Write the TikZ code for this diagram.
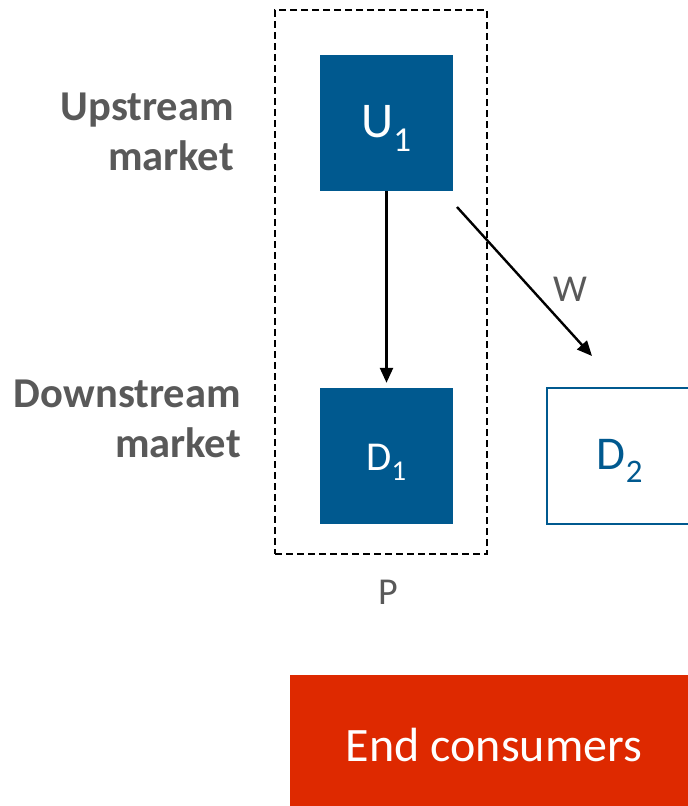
\documentclass[tikz,border=0pt]{standalone}
\usepackage{fontspec}
\setmainfont{Carlito}
\usetikzlibrary{arrows.meta}
\definecolor{firmblue}{RGB}{0,89,143}
\definecolor{consred}{RGB}{222,41,0}
\definecolor{labelgray}{RGB}{89,89,89}
\tikzset{
  firm/.style={draw=none, fill=firmblue, text=white, inner sep=0pt,
    minimum width=133pt, minimum height=136pt},
  rival/.style={draw=firmblue, line width=1.8pt, fill=white, text=firmblue,
    inner sep=0pt, minimum width=146pt, minimum height=136pt},
  market/.style={font=\bfseries\fontsize{42.5}{50}\selectfont, text=labelgray,
    align=right, anchor=east, inner sep=0pt},
  tag/.style={font=\fontsize{38}{46}\selectfont, text=labelgray, inner sep=0pt},
  flow/.style={draw=black, line width=2.4pt, -{Triangle[length=15pt,width=13pt]}},
  group/.style={draw=black, line width=1.8pt, dash pattern=on 7pt off 4pt,
    inner sep=0pt, minimum width=212pt, minimum height=544pt},
}
\begin{document}
\begin{tikzpicture}[x=1pt,y=-1pt]
\clip (0,0) rectangle (688,806);
\fill[white] (0,0) rectangle (688,806);

% integrated firm P
\node[group] (grp) at (381,282) {};
\node[firm] (U1) at (386.5,123) {};
\node[text=white, font=\fontsize{50}{60}\selectfont] (U1t) at (386.5,128) {U\textsubscript{1}};
\node[firm] (D1) at (386.5,456) {};
\node[text=white, font=\fontsize{41}{48}\selectfont] (D1t) at (386.5,462) {D\textsubscript{1}};
\node[tag] (P) at (388,592) {P};

% independent downstream rival
\node[rival] (D2) at (620,456) {};
\node[text=firmblue, font=\fontsize{47}{56}\selectfont] (D2t) at (620,461) {D\textsubscript{2}};

% market level labels
\node[market] (up) at (234,132) {Upstream\\market};
\node[market] (down) at (241,419) {Downstream\\market};

% supply relations
\draw[flow] (U1.south) -- ([yshift=5pt]D1.north);
\coordinate (w0) at (457,207);
\coordinate (w1) at (592,356);
\draw[flow] (w0) -- (w1);
\node[tag] (W) at (570,289) {W};

% final demand
\node[fill=consred, text=white, inner sep=0pt, minimum width=408pt,
  minimum height=140pt, font=\fontsize{48}{56}\selectfont] (cons) at (494,745) {End consumers};
\end{tikzpicture}
\end{document}
